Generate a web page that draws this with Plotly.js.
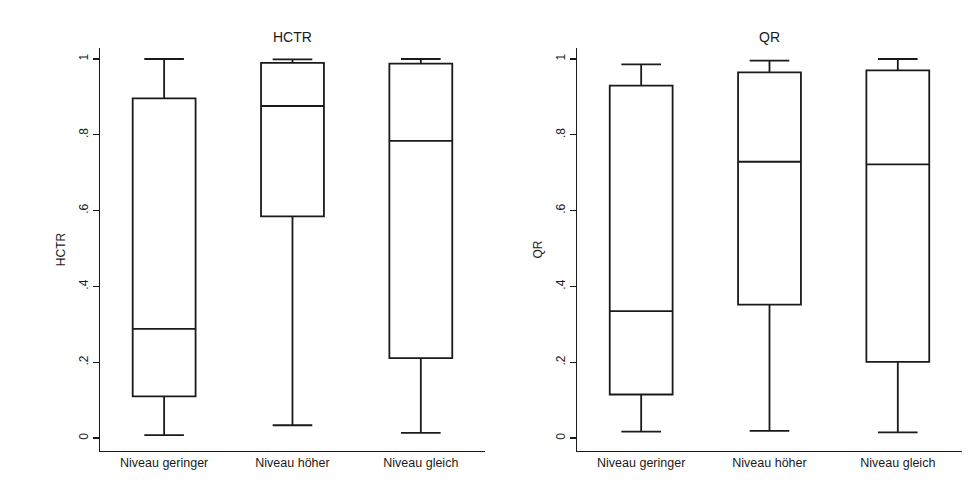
<!DOCTYPE html>
<html>
<head>
<meta charset="utf-8">
<script src="https://cdn.plot.ly/plotly-3.0.1.min.js"></script>
<style>html,body{margin:0;padding:0;background:#fff;}#chart{width:979px;height:489px;}</style>
</head>
<body>
<div id="chart"></div>
<script>
const categories = ['Niveau geringer', 'Niveau höher', 'Niveau gleich'];

const hctrMin    = [0.008, 0.034, 0.014];
const hctrQ1     = [0.110, 0.585, 0.211];
const hctrMedian = [0.288, 0.876, 0.784];
const hctrQ3     = [0.896, 0.990, 0.988];
const hctrMax    = [1.000, 0.999, 1.000];

const qrMin    = [0.017, 0.019, 0.015];
const qrQ1     = [0.115, 0.352, 0.201];
const qrMedian = [0.335, 0.729, 0.722];
const qrQ3     = [0.930, 0.965, 0.970];
const qrMax    = [0.986, 0.996, 1.000];

const yTickVals = [0, 0.2, 0.4, 0.6, 0.8, 1];
const yTickText = ['0', '.2', '.4', '.6', '.8', '1'];

const FONT = 'Liberation Sans, Arial, Helvetica, sans-serif';
const INK = '#1a1a1a';

function boxTrace(lo, q1, med, q3, hi, xa, ya) {
  return {
    type: 'box',
    x: categories,
    q1: q1, median: med, q3: q3,
    lowerfence: lo, upperfence: hi,
    boxpoints: false,
    width: 0.49,
    whiskerwidth: 0.63,
    fillcolor: 'rgba(255,255,255,0)',
    line: {color: INK, width: 1.8},
    xaxis: xa, yaxis: ya,
    showlegend: false,
    hoverinfo: 'skip'
  };
}

const data = [
  boxTrace(hctrMin, hctrQ1, hctrMedian, hctrQ3, hctrMax, 'x', 'y'),
  boxTrace(qrMin, qrQ1, qrMedian, qrQ3, qrMax, 'x2', 'y2')
];

const yBase = {
  range: [-0.034, 1.029],
  domain: [0.0777, 0.9018],
  tickvals: yTickVals,
  ticktext: yTickText,
  tickangle: -90,
  ticks: 'outside',
  ticklen: 6,
  tickwidth: 1.3,
  tickcolor: INK,
  showline: true,
  linecolor: INK,
  linewidth: 1.3,
  showgrid: false,
  zeroline: false,
  tickfont: {family: FONT, size: 12, color: INK}
};
const xBase = {
  type: 'category',
  range: [-0.5, 2.5],
  showline: true,
  linecolor: INK,
  linewidth: 1.3,
  showgrid: false,
  zeroline: false,
  ticks: '',
  tickfont: {family: FONT, size: 12.5, color: INK}
};

const layout = {
  width: 979, height: 489,
  margin: {l: 0, r: 0, t: 0, b: 0},
  paper_bgcolor: '#ffffff',
  plot_bgcolor: '#ffffff',
  font: {family: FONT, color: INK},
  xaxis: Object.assign({}, xBase, {domain: [0.1021, 0.4954], anchor: 'y'}),
  yaxis: Object.assign({}, yBase, {anchor: 'x', title: {text: 'HCTR', font: {family: FONT, size: 12, color: INK}, standoff: 8}}),
  xaxis2: Object.assign({}, xBase, {domain: [0.5894, 0.9826], anchor: 'y2'}),
  yaxis2: Object.assign({}, yBase, {anchor: 'x2', title: {text: 'QR', font: {family: FONT, size: 12, color: INK}, standoff: 8}}),
  annotations: [
    {text: 'HCTR', xref: 'x domain', yref: 'paper', x: 0.5, y: 1 - 37/489, xanchor: 'center', yanchor: 'middle', showarrow: false, font: {family: FONT, size: 14, color: INK}},
    {text: 'QR', xref: 'x2 domain', yref: 'paper', x: 0.5, y: 1 - 37/489, xanchor: 'center', yanchor: 'middle', showarrow: false, font: {family: FONT, size: 14, color: INK}}
  ]
};

Plotly.newPlot('chart', data, layout, {displayModeBar: false, staticPlot: true});
</script>
</body>
</html>
